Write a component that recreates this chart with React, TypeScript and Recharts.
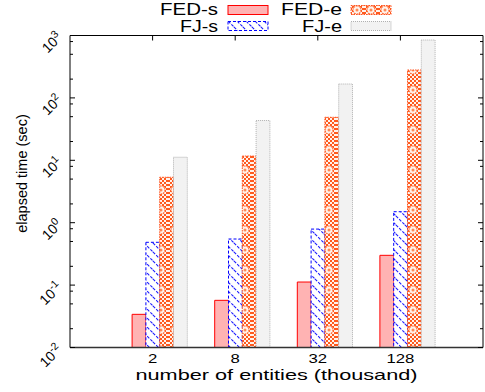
import React from 'react';
import { BarChart, Bar, XAxis, YAxis, Label } from 'recharts';

const categories = ['2', '8', '32', '128'];
const fedS = [0.034, 0.057, 0.112, 0.3];
const fjS = [0.485, 0.548, 0.79, 1.5];
const fedE = [5.35, 11.7, 48.9, 280];
const fjE = [11.2, 43.4, 167, 847];
const yMajor = [0.01, 0.1, 1, 10, 100, 1000];
const yMinor = [0.02, 0.05, 0.08, 0.2, 0.5, 0.8, 2, 5, 8, 20, 50, 80, 200, 500, 800];
const yAll = [...yMajor, ...yMinor].sort((a, b) => a - b);

const data = categories.map((n, i) => ({ n, fedS: fedS[i], fjS: fjS[i], fedE: fedE[i], fjE: fjE[i] }));

const FONT = 'Liberation Sans, Arial, Helvetica, sans-serif';
const DOMAIN: [number, number] = [0.01, 1000];
const isMajor = (v: number) => yMajor.some((m) => Math.abs(m - v) < 1e-9);

const YTick = (props: any) => {
  const { x, y, payload } = props;
  const major = isMajor(payload.value);
  const exp = Math.round(Math.log10(payload.value));
  const ax = x - 7;
  const ay = y + 3;
  return (
    <g>
      <line x1={x} x2={x + (major ? 5 : 3)} y1={y} y2={y} stroke="#000" strokeWidth={1} />
      {major && (
        <text x={ax} y={ay} textAnchor="end" fontFamily={FONT} fontSize={14} fill="#000" transform={`rotate(-45, ${ax}, ${ay})`}>
          10<tspan dy={-5.5} fontSize={10.5}>{exp}</tspan>
        </text>
      )}
    </g>
  );
};

const RTick = (props: any) => {
  const { x, y, payload } = props;
  const major = isMajor(payload.value);
  return <line x1={x} x2={x - (major ? 5 : 3)} y1={y} y2={y} stroke="#000" strokeWidth={1} />;
};

const TopTick = (props: any) => {
  const { x, y } = props;
  return <line x1={x} x2={x} y1={y} y2={y + 5} stroke="#000" strokeWidth={1} />;
};

const XTick = (props: any) => {
  const { x, y, payload } = props;
  const s = String(payload.value);
  return (
    <text x={x} y={y + 15.5} textAnchor="middle" fontFamily={FONT} fontSize={12.5} fill="#000" textLength={s.length * 9.3} lengthAdjust="spacingAndGlyphs">
      {s}
    </text>
  );
};

const YTitle = (props: any) => {
  const vb = props.viewBox || { x: 0, y: 35.5, width: 70, height: 312 };
  const cx = vb.x + 27;
  const cy = vb.y + vb.height / 2 - 18;
  return (
    <text x={cx} y={cy} textAnchor="middle" fontFamily={FONT} fontSize={14.5} fill="#000" transform={`rotate(-90, ${cx}, ${cy})`}>
      elapsed time (sec)
    </text>
  );
};

const XTitle = (props: any) => {
  const vb = props.viewBox || { x: 70, y: 347.5, width: 413, height: 44.5 };
  const cx = vb.x + vb.width / 2;
  const cy = vb.y + 32.5;
  return (
    <text x={cx} y={cy} textAnchor="middle" fontFamily={FONT} fontSize={14.5} fill="#000" textLength={282} lengthAdjust="spacingAndGlyphs">
      number of entities (thousand)
    </text>
  );
};

const legendItems = [
  { label: 'FED-s', textEnd: 218, textLen: 58, base: 15.3, sx: 228, sy: 5.5, fill: '#ffb3b3', stroke: '#ff0000', dash: undefined as string | undefined },
  { label: 'FED-e', textEnd: 342, textLen: 61, base: 15.3, sx: 351, sy: 5.5, fill: 'url(#pat-fede)', stroke: '#ff5522', dash: '1.5 1' },
  { label: 'FJ-s', textEnd: 218, textLen: 38, base: 31.5, sx: 228, sy: 21.5, fill: 'url(#pat-fjs)', stroke: '#0000ff', dash: '3 2' },
  { label: 'FJ-e', textEnd: 342, textLen: 40, base: 31.5, sx: 351, sy: 21.5, fill: '#f2f2f2', stroke: '#b0b0b0', dash: '1 1' },
];

export default function App() {
  return (
    <div style={{ position: 'absolute', left: 0, top: 0, width: 485, height: 392, background: '#fff' }}>
      <BarChart
        width={485}
        height={392}
        data={data}
        margin={{ top: 34.5, right: 0, bottom: 0, left: 0 }}
        barGap={0}
        barCategoryGap={0}
      >
        <XAxis
          xAxisId="x"
          dataKey="n"
          height={44.5}
          padding={{ left: 41.3, right: 41.3 }}
          tickLine={false}
          tickSize={0}
          tickMargin={0}
          tick={<XTick />}
          stroke="#333"
          axisLine={{ stroke: '#333', strokeWidth: 1.5 }}
          interval={0}
        >
          <Label content={<XTitle />} />
        </XAxis>
        <XAxis
          xAxisId="top"
          dataKey="n"
          orientation="top"
          height={1}
          padding={{ left: 41.3, right: 41.3 }}
          tick={<TopTick />}
          tickLine={false}
          tickSize={0}
          tickMargin={0}
          stroke="#000"
          axisLine={{ stroke: '#000' }}
          interval={0}
        />
        <YAxis
          yAxisId="y"
          scale="log"
          domain={DOMAIN}
          allowDataOverflow
          ticks={yAll}
          width={70}
          tickLine={false}
          tickSize={0}
          tickMargin={0}
          tick={<YTick />}
          stroke="#000"
          axisLine={{ stroke: '#000' }}
          interval={0}
        >
          <Label content={<YTitle />} />
        </YAxis>
        <YAxis
          yAxisId="r"
          orientation="right"
          scale="log"
          domain={DOMAIN}
          allowDataOverflow
          ticks={yAll}
          width={2}
          tickLine={false}
          tickSize={0}
          tickMargin={0}
          tick={<RTick />}
          stroke="#000"
          axisLine={{ stroke: '#000' }}
          interval={0}
        />
        <Bar xAxisId="x" yAxisId="y" dataKey="gap" barSize={13.8} fill="none" isAnimationActive={false} legendType="none" />
        <Bar xAxisId="x" yAxisId="y" dataKey="fedS" name="FED-s" barSize={13.8} fill="#ffb3b3" stroke="#ff0000" strokeWidth={1} isAnimationActive={false} />
        <Bar xAxisId="x" yAxisId="y" dataKey="fjS" name="FJ-s" barSize={13.8} fill="url(#pat-fjs)" stroke="#0000ff" strokeDasharray="3 2" strokeWidth={1} isAnimationActive={false} />
        <Bar xAxisId="x" yAxisId="y" dataKey="fedE" name="FED-e" barSize={13.8} fill="url(#pat-fede)" stroke="#ff5522" strokeDasharray="1.5 1" strokeWidth={1} isAnimationActive={false} />
        <Bar xAxisId="x" yAxisId="y" dataKey="fjE" name="FJ-e" barSize={13.8} fill="#f2f2f2" stroke="#b0b0b0" strokeDasharray="1 1" strokeWidth={1} isAnimationActive={false} />
      </BarChart>
      <svg width={485} height={40} style={{ position: 'absolute', left: 0, top: 0, pointerEvents: 'none' }}>
        <defs>
          <pattern id="pat-fjs" patternUnits="userSpaceOnUse" width={9} height={9}>
            <rect width={9} height={9} fill="#fff" />
            <path d="M0,0 L9,9 M-2,7 L2,11 M7,-2 L11,2" stroke="#1a1aff" strokeWidth={1.1} strokeDasharray="3 1.5" />
          </pattern>
          <pattern id="pat-chk" patternUnits="userSpaceOnUse" width={4} height={4}>
            <rect width={4} height={4} fill="#fff3ec" />
            <rect x={0} y={0} width={2} height={2} fill="#ff5a1e" />
            <rect x={2} y={2} width={2} height={2} fill="#ff5a1e" />
          </pattern>
          <pattern id="pat-fede" patternUnits="userSpaceOnUse" width={14} height={20}>
            <rect width={14} height={20} fill="url(#pat-chk)" />
            <circle cx={7} cy={10} r={4} fill="#fff3ec" stroke="#ff6a33" strokeWidth={1.2} strokeDasharray="1.5 1" />
            <circle cx={7} cy={10} r={1.5} fill="#ff8a55" />
          </pattern>
        </defs>
        {legendItems.map((it) => (
          <g key={it.label}>
            <text x={it.textEnd} y={it.base} textAnchor="end" fontFamily={FONT} fontSize={16} fill="#000" textLength={it.textLen} lengthAdjust="spacingAndGlyphs">
              {it.label}
            </text>
            <rect x={it.sx} y={it.sy} width={40} height={9} fill={it.fill} stroke={it.stroke} strokeDasharray={it.dash} strokeWidth={1} />
          </g>
        ))}
      </svg>
    </div>
  );
}
